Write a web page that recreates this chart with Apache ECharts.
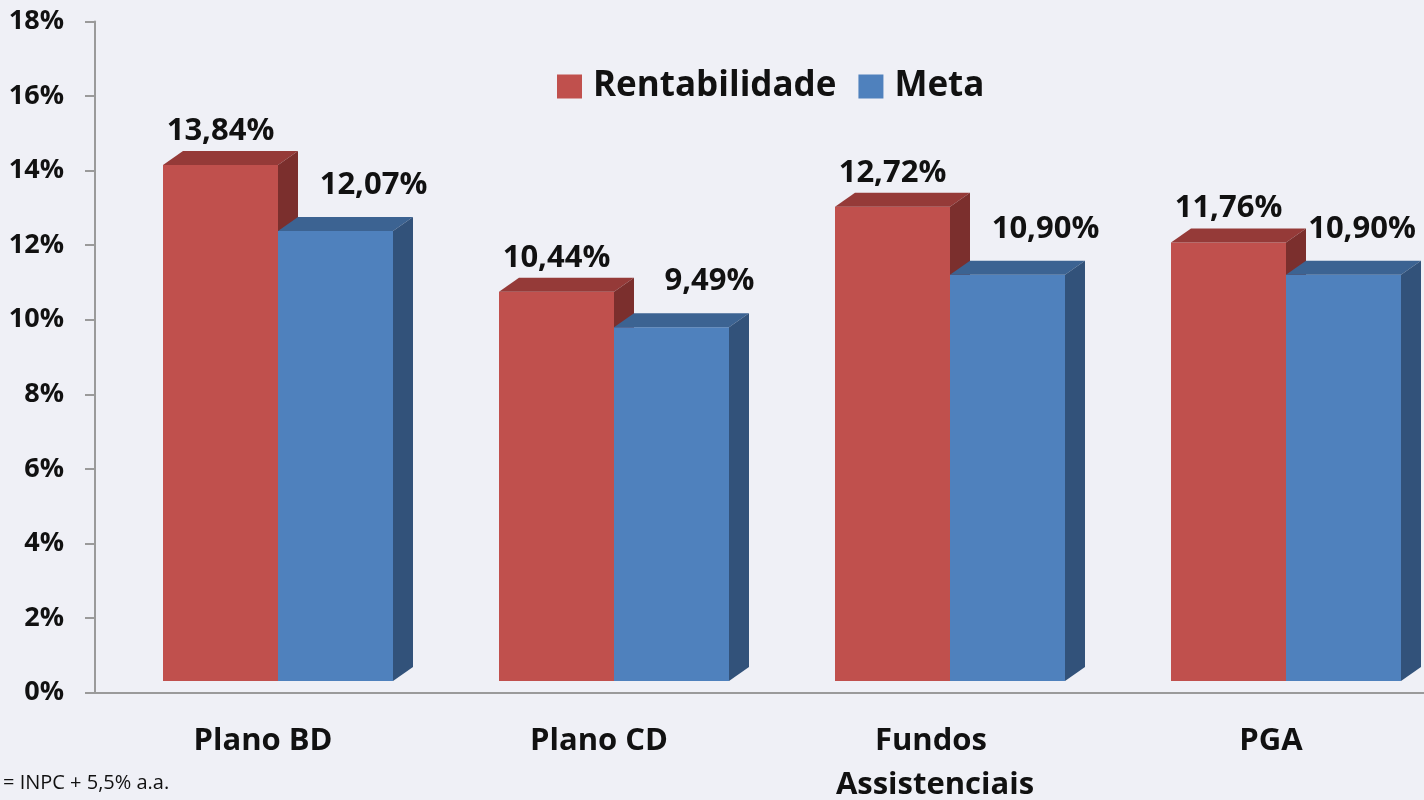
<!DOCTYPE html>
<html>
<head>
<meta charset="utf-8">
<script src="https://cdn.jsdelivr.net/npm/echarts@6/dist/echarts.min.js"></script>
<style>
  html, body { margin: 0; padding: 0; background: #eff0f6; }
  #chart { width: 1424px; height: 800px; }
</style>
</head>
<body>
<div id="chart"></div>
<script>
const categories = ['Plano BD', 'Plano CD', 'Fundos Assistenciais', 'PGA']
const rentabilidade = [13.84, 10.44, 12.72, 11.76]
const meta = [12.07, 9.49, 10.90, 10.90]
const seriesNames = ['Rentabilidade', 'Meta']
const footnote = '= INPC + 5,5% a.a.'

const FONT = '"Open Sans", "Noto Sans", sans-serif'
const TEXT = '#111111'
// cores: frente, topo, lateral
const palette = [
  { front: '#c0504d', top: '#953a38', side: '#7b2f2d' },
  { front: '#4f81bd', top: '#3c6392', side: '#32527a' },
]
const DX = 20, DY = 14, LIFT = 11.5 // efeito 3D

const fmt = v => v.toFixed(2).replace('.', ',') + '%'

function makeRender(k) {
  const c = palette[k]
  return function (params, api) {
    const i = api.value(0)
    const v = api.value(1)
    const base = api.coord([i, 0])
    const top = api.coord([i, v])
    const band = api.size([1, 0])[0]
    const barW = band * 115 / 336
    const x0 = base[0] - band / 2 + band * 68 / 336 + k * barW
    const y0 = base[1] - LIFT
    const y1 = top[1] - LIFT
    let lx = x0 + barW / 2
    let ly = y1 - 34
    if (k === 1) {
      lx = Math.min(lx + 38, api.getWidth() - 62)
      ly = y1 - 46
    }
    return {
      type: 'group',
      children: [
        { type: 'rect', shape: { x: x0, y: y1, width: barW, height: y0 - y1 }, style: { fill: c.front } },
        { type: 'polygon', shape: { points: [[x0, y1], [x0 + DX, y1 - DY], [x0 + barW + DX, y1 - DY], [x0 + barW, y1]] }, style: { fill: c.top } },
        { type: 'polygon', shape: { points: [[x0 + barW, y1], [x0 + barW + DX, y1 - DY], [x0 + barW + DX, y0 - DY], [x0 + barW, y0]] }, style: { fill: c.side } },
        {
          type: 'text', x: lx, y: ly,
          style: { text: fmt(v), fill: TEXT, font: 'bold 31px ' + FONT, align: 'center', verticalAlign: 'middle' }
        }
      ]
    }
  }
}

const chart = echarts.init(document.getElementById('chart'))
chart.setOption({
  backgroundColor: '#eff0f6',
  animation: false,
  textStyle: { fontFamily: FONT },
  grid: { left: 95, top: 21.5, width: 1344, height: 671, containLabel: false, outerBoundsMode: 'none' },
  legend: {
    left: 557, top: 69, padding: 0,
    itemWidth: 25, itemHeight: 24, itemGap: 22,
    icon: 'rect',
    data: seriesNames,
    textStyle: { fontSize: 35, fontWeight: 'bold', color: TEXT, fontFamily: FONT, padding: [0, 0, 0, 6] }
  },
  xAxis: {
    type: 'category',
    data: categories,
    axisLine: { lineStyle: { color: '#9a9a9a', width: 2 } },
    axisTick: { length: 13, lineStyle: { color: '#9a9a9a', width: 2 } },
    axisLabel: {
      interval: 0, hideOverlap: false,
      fontSize: 31, fontWeight: 'bold', color: TEXT, fontFamily: FONT,
      margin: 27, width: 220, overflow: 'break', lineHeight: 44
    }
  },
  yAxis: {
    type: 'value',
    min: 0, max: 18, interval: 2,
    axisLine: { show: true, lineStyle: { color: '#9a9a9a', width: 2 } },
    axisTick: { show: true, length: 10, lineStyle: { color: '#9a9a9a', width: 2 } },
    splitLine: { show: false },
    axisLabel: { fontSize: 27, fontWeight: 'bold', color: TEXT, fontFamily: FONT, margin: 31, formatter: '{value}%' }
  },
  graphic: [{
    type: 'text', left: 3, top: 773,
    style: { text: footnote, font: '20px ' + FONT, fill: TEXT }
  }],
  series: [rentabilidade, meta].map((vals, k) => ({
    name: seriesNames[k],
    type: 'custom',
    itemStyle: { color: palette[k].front },
    renderItem: makeRender(k),
    encode: { x: 0, y: 1 },
    data: vals.map((v, i) => [i, v])
  }))
})
</script>
</body>
</html>
